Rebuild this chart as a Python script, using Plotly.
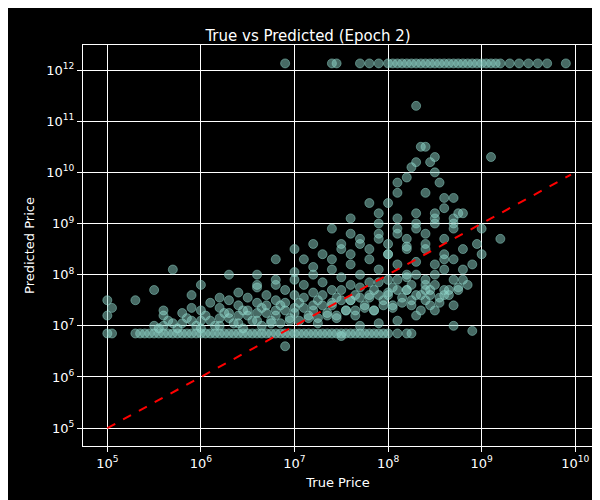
import plotly.graph_objects as go

# log10 values
floor_true = [5.0,5.3,5.35,5.4,5.45,5.5,5.55,5.6,5.65,5.7,5.75,5.8,5.85,5.9,5.95,6.0,6.05,6.1,6.15,6.2,6.25,6.3,6.35,6.4,6.45,6.5,6.55,6.6,6.65,6.7,6.75,6.8,6.85,6.9,6.95,7.0,7.05,7.1,7.15,7.2,7.25,7.3,7.35,7.4,7.45,7.5,7.55,7.6,7.65,7.7,7.75,7.8,7.85,7.9,7.95,8.0,8.1,8.2,8.25]
floor_pred = [6.85]*len(floor_true)

cloud_true = [5.5,5.6,5.7,5.8,5.9,6.0,6.1,6.2,6.3,6.4,6.5,6.6,6.7,6.8,6.9,7.0,7.1,7.2,7.3,7.4,7.5,7.6,7.7,7.8,7.9,8.0,8.1,8.2,8.3,8.4,
              5.6,5.8,6.0,6.2,6.4,6.6,6.8,7.0,7.2,7.4,7.6,7.8,8.0,8.2,8.4,8.5,
              5.9,6.1,6.3,6.5,6.7,6.9,7.1,7.3,7.5,7.7,7.9,8.1,8.3,8.5,8.6,
              6.2,6.4,6.6,6.8,7.0,7.2,7.4,7.6,7.8,8.0,8.2,8.4,8.6,8.7,
              6.6,6.8,7.0,7.2,7.4,7.6,7.8,8.0,8.2,8.4,8.6,8.8,
              7.1,7.3,7.5,7.7,7.9,8.1,8.3,8.5,8.7,
              7.5,7.7,7.9,8.1,8.3,8.5,8.7,
              7.9,8.1,8.3,8.5,8.7,8.2,8.4,8.6,8.8,8.9,
              5.55,5.75,5.95,6.15,6.35,6.55,6.75,6.95,7.15,7.35,7.55,7.75,7.95,8.15,8.35,8.55,8.75,
              6.45,6.65,6.85,7.05,7.25,7.45,7.65,7.85,8.05,8.25,8.45,8.65,
              5.65,5.85,6.05,6.25,6.45,6.65,6.85,7.05,7.25,7.45,7.65,7.85,8.05,8.25,8.45,
              6.0,6.2,6.4,6.6,6.8,7.0,7.2,7.4,7.6,7.8,8.0,8.2,8.4,8.6,
              6.3,6.5,6.7,6.9,7.1,7.3,7.5,7.7,7.9,8.1,8.3,8.5,8.7,
              6.75,6.95,7.15,7.35,7.55,7.75,7.95,8.15,8.35,8.55,8.75,
              7.25,7.45,7.65,7.85,8.05,8.25,8.45,8.65,8.85,
              7.7,7.9,8.1,8.3,8.5,8.7,8.0,8.2,8.4,8.6,8.8]
cloud_pred = [7.0,7.0,7.05,7.05,7.1,7.1,7.1,7.15,7.15,7.2,7.2,7.25,7.25,7.3,7.3,7.35,7.35,7.4,7.4,7.45,7.5,7.5,7.55,7.6,7.6,7.65,7.7,7.7,7.6,7.5,
              7.2,7.25,7.3,7.35,7.4,7.45,7.5,7.6,7.65,7.7,7.8,7.85,7.9,7.95,7.9,7.8,
              7.35,7.45,7.5,7.55,7.6,7.7,7.8,7.85,7.95,8.0,8.1,8.2,8.25,8.2,8.1,
              7.55,7.65,7.75,7.8,7.9,8.0,8.1,8.2,8.3,8.4,8.5,8.5,8.4,8.3,
              7.8,7.9,8.05,8.15,8.3,8.4,8.5,8.6,8.7,8.8,8.7,8.5,
              8.3,8.4,8.5,8.6,8.7,8.8,8.9,9.0,8.9,
              8.6,8.7,8.8,8.9,9.0,9.1,9.0,
              9.0,9.1,9.2,9.2,9.1,8.0,7.7,7.6,7.9,8.2,
              6.95,6.95,7.0,7.0,7.05,7.1,7.1,7.15,7.2,7.25,7.3,7.35,7.4,7.45,7.3,7.45,7.7,
              6.95,7.0,7.05,7.1,7.15,7.2,7.3,7.3,7.35,7.4,7.4,7.6,
              7.1,7.15,7.2,7.25,7.3,7.35,7.4,7.45,7.5,7.55,7.6,7.7,7.75,7.8,7.7,
              6.95,7.0,7.05,7.1,7.2,7.25,7.3,7.4,7.5,7.55,7.6,7.7,7.8,7.7,
              7.25,7.3,7.4,7.45,7.55,7.6,7.7,7.75,7.85,7.9,8.0,8.0,7.9,
              7.05,7.1,7.15,7.2,7.3,7.4,7.5,7.55,7.6,7.55,7.75,
              7.05,7.15,7.2,7.3,7.4,7.5,7.6,7.7,7.8,
              7.0,7.05,7.1,7.2,7.3,7.4,8.4,8.55,8.6,8.3,8.1]

out_true = [5.0,5.0,5.05,5.3,5.5,5.6,5.7,5.9,6.0,6.3,6.6,6.8,7.0,7.2,7.4,7.6,7.6,7.8,7.9,8.0,8.1,8.2,8.25,8.3,8.35,8.4,8.45,8.5,8.55,8.6,8.7,8.8,9.0,9.0,9.2,9.1,8.1,8.3,8.4,8.5,8.6,8.75,8.95,5.05,6.9,7.5,8.7,8.9]
out_pred = [7.5,7.2,7.35,7.5,7.7,7.3,8.1,7.6,7.8,8.0,8.0,8.3,8.5,8.6,8.9,9.1,8.8,9.4,9.2,9.4,9.6,9.9,10.1,11.3,10.5,9.6,10.2,10.0,9.8,9.3,9.5,9.2,8.9,8.4,8.7,10.3,9.8,10.2,10.5,10.3,9.5,9.2,8.6,6.85,6.6,6.8,7.0,6.9]

top_true = [6.9,7.4,7.45,7.7,7.8,7.9,8.0,8.05,8.1,8.15,8.2,8.25,8.3,8.35,8.4,8.45,8.5,8.55,8.6,8.65,8.7,8.75,8.8,8.85,8.9,8.95,9.0,9.05,9.1,9.15,9.2,9.3,9.4,9.5,9.6,9.7,9.9]
top_pred = [12.13]*len(top_true)

lx = floor_true + cloud_true + out_true + top_true
ly = floor_pred + cloud_pred + out_pred + top_pred
xs = [10**v for v in lx]
ys = [10**v for v in ly]

line_x = [1e5, 9e9]

fig = go.Figure()
fig.add_trace(go.Scatter(x=xs, y=ys, mode="markers",
    marker=dict(size=9, color="rgba(141,211,199,0.5)", line=dict(width=1, color="rgba(141,211,199,0.5)"))))
fig.add_trace(go.Scatter(x=line_x, y=line_x, mode="lines", line=dict(color="red", dash="dash", width=2)))

tickvals = [10**k for k in range(5, 13)]
ticktext = [f"10<sup>{k}</sup>" for k in range(5, 13)]
axis = dict(type="log", showgrid=True, gridcolor="white", gridwidth=1, zeroline=False, automargin=False,
            showline=True, linecolor="white", mirror=True, ticks="outside", tickcolor="white",
            tickfont=dict(color="white", size=13), title_font=dict(color="white", size=13))
fig.update_layout(
    width=600, height=500, paper_bgcolor="black", plot_bgcolor="black", showlegend=False,
    font=dict(family="DejaVu Sans", color="white"),
    title=dict(text="True vs Predicted (Epoch 2)", x=0.5, xanchor="center", y=0.955, font=dict(size=15, color="white")),
    margin=dict(l=75, r=15, t=37, b=62, autoexpand=False),
)
fig.update_xaxes(**axis, range=[4.74, 10.19], tickvals=tickvals[:6], ticktext=ticktext[:6], title_text="True Price", title_standoff=8)
fig.update_yaxes(**axis, range=[4.65, 12.49], tickvals=tickvals, ticktext=ticktext, title_text="Predicted Price", title_standoff=8)
fig.write_html("out.html")
